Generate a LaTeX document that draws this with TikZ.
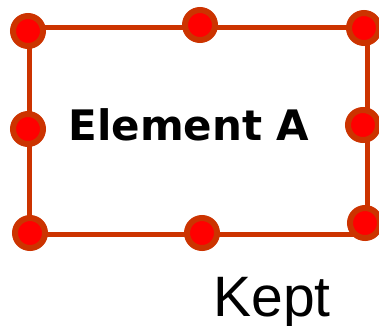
\documentclass[tikz,border=0pt]{standalone}
\usepackage{fontspec}
\setmainfont{DejaVu Sans}
\newfontfamily\keptfont{Liberation Sans}
\definecolor{edgeorange}{RGB}{204,51,0}
\begin{document}
\begin{tikzpicture}[x=1pt, y=-1pt,
    handle/.style={circle, draw=edgeorange, fill=red, line width=6pt, minimum size=30pt, inner sep=0pt}]
    \useasboundingbox (0,0) rectangle (379,325);

    % outline of the element
    \draw[edgeorange, line width=5pt] (29,27) rectangle (367,234);

    % handles on corners and sides
    \node[handle] (tl) at (28,31) {};
    \node[handle] (tm) at (200,25) {};
    \node[handle] (tr) at (364,28) {};
    \node[handle] (ml) at (28,129) {};
    \node[handle] (mr) at (363,125) {};
    \node[handle] (bl) at (30,233) {};
    \node[handle] (bm) at (202,233) {};
    \node[handle] (br) at (365,223) {};

    \node[anchor=base, inner sep=0pt, font=\bfseries\fontsize{42}{42}\selectfont] (elem) at (189,140) {Element A};
    \node[anchor=base, inner sep=0pt, font=\keptfont\fontsize{57}{57}\selectfont] (kept) at (272,316) {Kept};
\end{tikzpicture}
\end{document}
